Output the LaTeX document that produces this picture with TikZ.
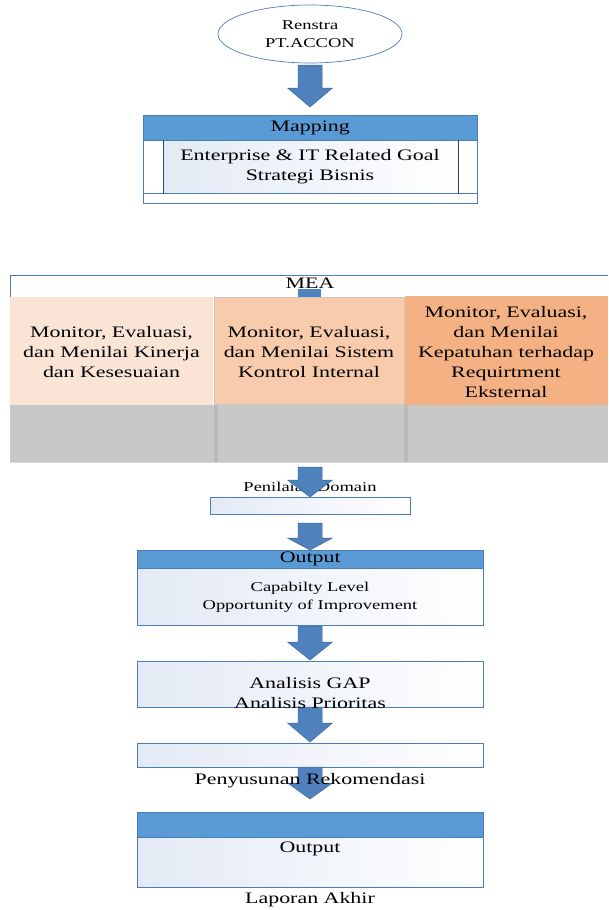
\documentclass[tikz,border=0pt]{standalone}
\usepackage{fontspec}
\setmainfont[FakeStretch=1.37]{Liberation Serif}
\usetikzlibrary{shapes.geometric}
\definecolor{hdr}{HTML}{5B9BD5}
\definecolor{bord}{HTML}{4A7EBB}
\definecolor{arr}{HTML}{4F81BD}
\definecolor{arrd}{HTML}{3C6A9C}
\definecolor{peachA}{HTML}{FAE4D5}
\definecolor{peachB}{HTML}{F7CBAC}
\definecolor{peachC}{HTML}{F4B183}
\definecolor{band}{HTML}{C8C8C8}
\definecolor{bandd}{HTML}{BABABA}
\definecolor{grad}{HTML}{E3EAF5}
\tikzset{
  gradbox/.style={draw=bord, line width=0.8pt, anchor=north west, inner sep=0pt, left color=grad, right color=white},
  hdrbox/.style={draw=bord, line width=0.6pt, fill=hdr, anchor=north west, inner sep=0pt},
  colbox/.style={anchor=north west, inner sep=0pt},
  bigtxt/.style={font=\fontsize{16}{20}\selectfont, align=center, inner sep=0pt, text=black},
  midtxt/.style={font=\fontsize{16}{20}\selectfont, align=center, inner sep=0pt, text=black},
  smalltxt/.style={font=\fontsize{13.5}{18}\selectfont, align=center, inner sep=0pt, text=black},
  blockarr/.style={fill=arr, draw=arrd, line width=0.5pt},
}
\newcommand\blkarrow[3]{%
  \draw[blockarr] (298,#1) -- (322,#1) -- (322,#2) -- (332.5,#2) -- (310,#3) -- (287.5,#2) -- (298,#2) -- cycle;}
\begin{document}
\begin{tikzpicture}[x=1pt,y=-1pt]
\useasboundingbox (0,0) rectangle (608,910);
\fill[white] (0,0) rectangle (608,910);

% Renstra ellipse
\node[ellipse, draw=bord, line width=0.7pt, fill=white, minimum width=184pt, minimum height=58pt, inner sep=0pt] (renstra) at (310,34) {};
\node[smalltxt] (renstraT) at (renstra.center) {Renstra\\PT.ACCON};
\blkarrow{65}{88}{107}

% Mapping
\node[hdrbox, minimum width=334pt, minimum height=25pt] (maphdr) at (143,115) {};
\node[bigtxt] (mapT) at (maphdr.center) {Mapping};
\node[gradbox, draw=none, minimum width=294pt, minimum height=53pt] (mapbody) at (163,140) {};
\draw[bord, line width=0.6pt] (143,140) rectangle (477,203);
\draw[bord, line width=0.6pt] (143,193) -- (477,193);
\draw[black!45!bord, line width=0.6pt] (mapbody.north west) -- (mapbody.south west);
\draw[black!45!bord, line width=0.6pt] (mapbody.north east) -- (mapbody.south east);
\node[bigtxt] (mapbodyT) at (310,167) {Enterprise \& IT Related Goal\\Strategi Bisnis};

% MEA
\draw[bord, line width=0.7pt] (10,297) -- (10,275) -- (608,275);
\fill[arr] (298,289) rectangle (321,297);
\node[midtxt] (meaT) at (310,283) {MEA};
\node[colbox, fill=band, minimum width=598pt, minimum height=57pt] (band) at (10,405) {};
\draw[bandd, line width=4pt] (215.5,405) -- (215.5,462);
\draw[bandd, line width=4pt] (405.5,405) -- (405.5,462);
\draw[black!15, line width=1pt] (10,462.5) -- (608,462.5);
\node[colbox, fill=peachA, minimum width=203pt, minimum height=108pt] (colA) at (10,297) {};
\node[colbox, fill=peachB, draw=black!22, line width=1pt, minimum width=190pt, minimum height=107pt] (colB) at (214,297) {};
\node[colbox, fill=peachC, minimum width=203pt, minimum height=109pt] (colC) at (405,296) {};
\node[bigtxt] (colAT) at (111.5,352) {Monitor, Evaluasi,\\dan Menilai Kinerja\\dan Kesesuaian};
\node[bigtxt] (colBT) at (309,352) {Monitor, Evaluasi,\\dan Menilai Sistem\\Kontrol Internal};
\node[bigtxt] (colCT) at (506,352) {Monitor, Evaluasi,\\dan Menilai\\Kepatuhan terhadap\\Requirtment\\Eksternal};

% Penilaian Domain
\node[smalltxt] (penT) at (310,487) {Penilaian Domain};
\blkarrow{467}{480}{497}
\node[gradbox, line width=0.7pt, minimum width=200pt, minimum height=17pt] (penbox) at (210,497) {};
\blkarrow{523}{538}{550}

% Output 1
\node[hdrbox, minimum width=346pt, minimum height=18pt] (out1hdr) at (137,550) {};
\node[bigtxt] (out1T) at (out1hdr.center) {Output};
\node[gradbox, line width=0.7pt, minimum width=346pt, minimum height=57pt] (out1body) at (137,568) {};
\node[smalltxt] (out1bodyT) at (310,597) {Capabilty Level\\Opportunity of Improvement};
\blkarrow{626}{642}{660}

% Analisis
\node[gradbox, line width=0.7pt, minimum width=346pt, minimum height=46pt] (anbox) at (137,661) {};
\blkarrow{707}{723}{742}
\node[midtxt] (anT) at (310,693) {Analisis GAP\\Analisis Prioritas};

% Rekomendasi
\node[gradbox, line width=0.7pt, minimum width=346pt, minimum height=24pt] (rekbox) at (137,743) {};
\blkarrow{767}{783}{799}
\node[midtxt] (rekT) at (310,781) {Penyusunan Rekomendasi};

% Output 2
\node[hdrbox, minimum width=346pt, minimum height=25pt] (out2hdr) at (137,812) {};
\node[gradbox, line width=0.7pt, minimum width=346pt, minimum height=50pt] (out2body) at (137,837) {};
\node[midtxt] (out2T) at (310,849) {Output};
\node[midtxt] (lapT) at (310,900) {Laporan Akhir};
\end{tikzpicture}
\end{document}
